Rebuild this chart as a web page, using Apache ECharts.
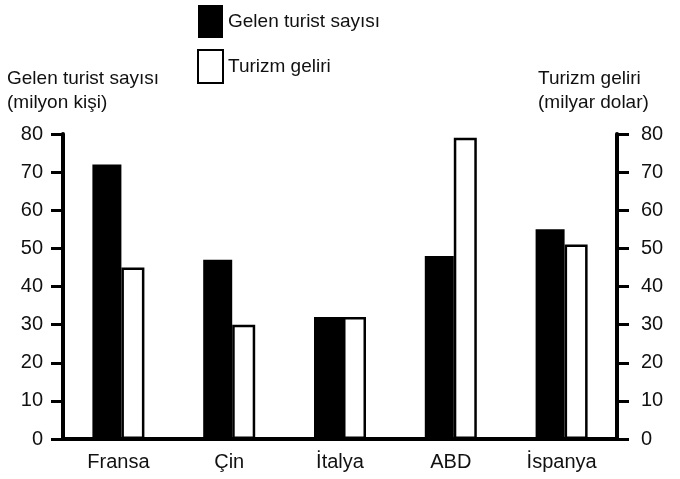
<!DOCTYPE html>
<html>
<head>
<meta charset="utf-8">
<script src="https://cdn.jsdelivr.net/npm/echarts@6/dist/echarts.min.js"></script>
<style>html,body{margin:0;padding:0;background:#fff}#c{width:680px;height:479px}</style>
</head>
<body>
<div id="c"></div>
<script>
const categories = ['Fransa', 'Çin', 'İtalya', 'ABD', 'İspanya'];
const touristArrivals = [72, 47, 32, 48, 55];   // milyon kişi
const tourismIncome = [45, 30, 32, 79, 51];     // milyar dolar
const yTicks = [0, 10, 20, 30, 40, 50, 60, 70, 80];

const FONT = '"Liberation Sans", Arial, sans-serif';

const chart = echarts.init(document.getElementById('c'));
const yAxisBase = {
  type: 'value', min: yTicks[0], max: yTicks[yTicks.length - 1], interval: 10,
  splitLine: { show: false },
  axisLine: { show: true, lineStyle: { color: '#000', width: 4 } },
  axisTick: { show: true, length: 12, lineStyle: { color: '#000', width: 3 } },
  axisLabel: { color: '#111', fontSize: 20, fontFamily: FONT }
};
chart.setOption({
  animation: false,
  backgroundColor: '#fff',
  grid: { left: 63, right: 63, top: 134, bottom: 40 },
  legend: {
    orient: 'vertical', left: 197, top: 5, padding: 0,
    icon: 'rect',
    itemWidth: 25, itemHeight: 33, itemGap: 11,
    textStyle: { color: '#111', fontSize: 19, fontFamily: FONT },
    data: ['Gelen turist sayısı', 'Turizm geliri']
  },
  graphic: [
    { type: 'text', left: 7, top: 67, style: { text: 'Gelen turist sayısı\n(milyon kişi)', font: '19px ' + FONT, fill: '#111', lineHeight: 24 } },
    { type: 'text', left: 538, top: 67, style: { text: 'Turizm geliri\n(milyar dolar)', font: '19px ' + FONT, fill: '#111', lineHeight: 24 } }
  ],
  xAxis: {
    type: 'category', data: categories,
    axisLine: { show: true, lineStyle: { color: '#000', width: 4 } },
    axisTick: { show: false },
    axisLabel: { color: '#111', fontSize: 20, fontFamily: FONT, margin: 13 }
  },
  yAxis: [
    Object.assign({}, yAxisBase, { position: 'left', axisLabel: Object.assign({}, yAxisBase.axisLabel, { margin: 20 }) }),
    Object.assign({}, yAxisBase, { position: 'right', axisLabel: Object.assign({}, yAxisBase.axisLabel, { margin: 24 }) })
  ],
  series: [
    { name: 'Gelen turist sayısı', type: 'bar', yAxisIndex: 0, data: touristArrivals,
      barWidth: 29, barGap: '0%', itemStyle: { color: '#000' } },
    { name: 'Turizm geliri', type: 'bar', yAxisIndex: 1, data: tourismIncome,
      barWidth: 23, barGap: '0%', itemStyle: { color: '#fff', borderColor: '#000', borderWidth: 2.5 } }
  ]
});
</script>
</body>
</html>
